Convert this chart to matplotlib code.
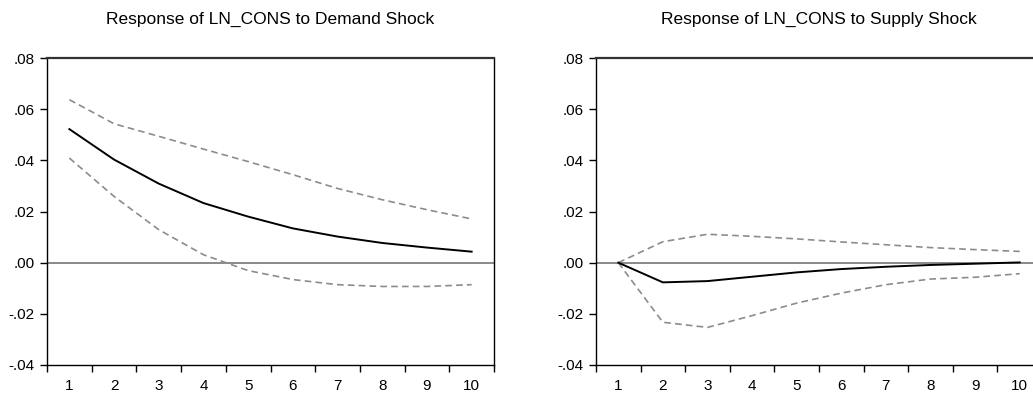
import matplotlib as mpl
import matplotlib.pyplot as plt
import numpy as np

config = {
    "font.family": ['Liberation Sans', 'DejaVu Sans'],
    "font.size": 11,
}
mpl.rcParams.update(config)

# impulse response periods
periods = np.arange(1, 11)

# Response of LN_CONS to Demand Shock
demand_resp = [0.0522, 0.0403, 0.0309, 0.0233, 0.0180, 0.0134, 0.0102, 0.0077, 0.0059, 0.0043]
demand_upper = [0.0637, 0.0543, 0.0494, 0.0444, 0.0395, 0.0344, 0.0290, 0.0246, 0.0207, 0.0171]
demand_lower = [0.0409, 0.0259, 0.0129, 0.0031, -0.0031, -0.0066, -0.0086, -0.0093, -0.0093, -0.0086]

# Response of LN_CONS to Supply Shock
supply_resp = [0.0, -0.0077, -0.0072, -0.0055, -0.0038, -0.0025, -0.0016, -0.0009, -0.0004, 0.0001]
supply_upper = [0.0, 0.0082, 0.0111, 0.0103, 0.0093, 0.0081, 0.0070, 0.0059, 0.0051, 0.0044]
supply_lower = [0.0, -0.0233, -0.0253, -0.0207, -0.0158, -0.0119, -0.0086, -0.0064, -0.0057, -0.0043]

titles = ["Response of LN_CONS to Demand Shock", "Response of LN_CONS to Supply Shock"]
yticks = [-0.04, -0.02, 0.0, 0.02, 0.04, 0.06, 0.08]
ytick_labels = ["-.04", "-.02", ".00", ".02", ".04", ".06", ".08"]


def irf_panel(ax, resp, upper, lower, title_x, title):
    ax.axhline(0, color='#808080', linewidth=1.3, zorder=1)
    ax.plot(periods, upper, color='#8c8c8c', linewidth=1.2, dashes=(4, 2.5), zorder=2)
    ax.plot(periods, lower, color='#8c8c8c', linewidth=1.2, dashes=(4, 2.5), zorder=2)
    ax.plot(periods, resp, color='black', linewidth=1.4, zorder=3)
    ax.set_xlim(0.5, 10.5)
    ax.set_ylim(-0.04, 0.08)
    ax.set_yticks(yticks)
    ax.set_yticklabels(ytick_labels)
    # ticks between categories, labels at centres
    ax.set_xticks(np.arange(0.5, 11.0, 1.0))
    ax.set_xticklabels([])
    ax.set_xticks(periods, minor=True)
    ax.set_xticklabels([str(p) for p in periods], minor=True)
    ax.tick_params(axis='x', which='minor', length=0, pad=10, labelsize=11)
    ax.tick_params(axis='x', which='major', direction='out', length=5, width=1)
    ax.tick_params(axis='y', direction='out', length=5, width=1, pad=4, labelsize=11)
    for loc, spine in ax.spines.items():
        spine.set_linewidth(1.0)
        spine.set_color('black')
    ax.spines['top'].set_linewidth(1.6)
    ax.spines['top'].set_color('#333333')
    fig.text(title_x, 1 - 19 / 394, title, ha='center', va='center', fontsize=12.5)


fig = plt.figure(figsize=(10.33, 3.94), dpi=100)
ax1 = fig.add_axes([47 / 1033, 29 / 394, 447 / 1033, 307 / 394])
ax2 = fig.add_axes([596 / 1033, 29 / 394, 446 / 1033, 307 / 394])

irf_panel(ax1, demand_resp, demand_upper, demand_lower, 270 / 1033, titles[0])
irf_panel(ax2, supply_resp, supply_upper, supply_lower, 819 / 1033, titles[1])

plt.savefig("out.png", dpi=100)
plt.close()
